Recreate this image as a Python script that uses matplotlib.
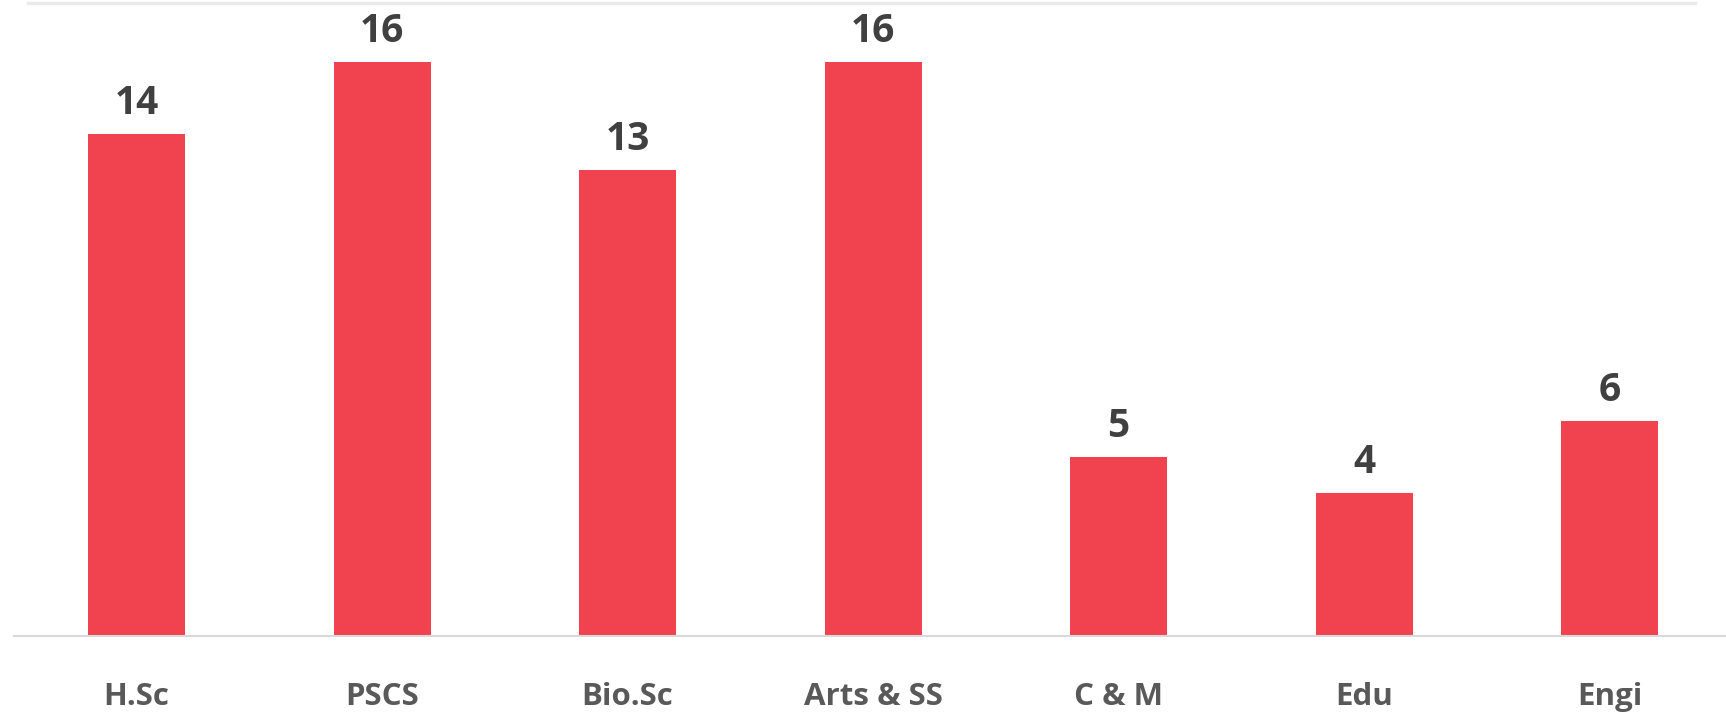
import matplotlib.pyplot as plt

categories = ["H.Sc", "PSCS", "Bio.Sc", "Arts & SS", "C & M", "Edu", "Engi"]
counts = [14, 16, 13, 16, 5, 4, 6]

bar_color = "#F0434F"
label_color = "#404040"
cat_color = "#595959"

plt.rcParams['font.family'] = ['Open Sans', 'DejaVu Sans']

fig = plt.figure(figsize=(17.26, 7.12), dpi=100)
ax = fig.add_axes([0.00797, 0.1063, 0.9957, 0.889])

x = range(len(categories))
bars = ax.bar(x, counts, width=0.395, color=bar_color, zorder=2)

ax.set_xlim(-0.5, len(categories) - 0.5)
ax.set_ylim(0, 17.64)

# подписи значений над столбиками
for b, v in zip(bars, counts):
    ax.annotate(str(v), (b.get_x() + b.get_width() / 2, v),
                xytext=(0, 14.4), textcoords="offset points",
                ha="center", va="baseline", fontsize=28,
                fontweight="bold", color=label_color)

ax.set_xticks(list(x))
ax.set_xticklabels(categories, fontsize=22.5, fontweight="bold",
                   color=cat_color, va="baseline")
ax.tick_params(axis="x", length=0, pad=49.5)
ax.set_yticks([])

for s in ["top", "left", "right"]:
    ax.spines[s].set_visible(False)
ax.spines["bottom"].set_color("#D9D9D9")
ax.spines["bottom"].set_linewidth(1.5)

# верхняя линия сетки
ax.axhline(17.64, xmin=0.008, xmax=0.978, color="#EBEBEB",
           linewidth=2.5, clip_on=False, zorder=1)

fig.savefig("out.png", dpi=100)
